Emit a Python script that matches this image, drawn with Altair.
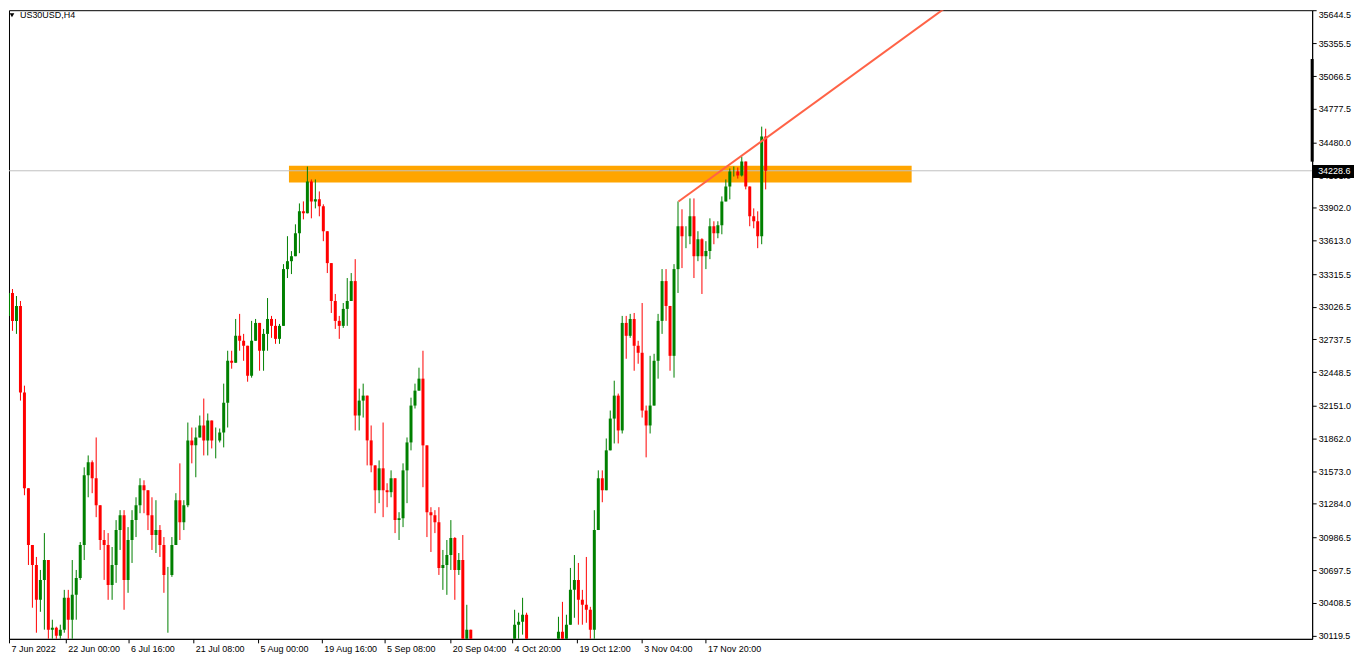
import json
import altair as alt
import pandas as pd

# ---- candle data (aggregated H4 bars) ----
open_first = 32725
high = [
    33007, 33200, 33183, 33121, 33077, 32328, 31315, 30901, 30813, 30698,
    31024, 30742, 30258, 30196, 30214, 30522, 30522, 30786, 30698, 30945,
    31606, 31711, 31667, 31870, 31165, 31051, 31024, 30901, 31139, 31227,
    31227, 31077, 31227, 31341, 31509, 31491, 31403, 31341, 31315, 31095,
    30989, 30725, 30989, 31377, 31641, 31315, 32002, 31958, 31958, 32064,
    32214, 32082, 32020, 31958, 31949, 32346, 32637, 32637, 32918, 32963,
    32786, 32548, 32901, 32918, 32883, 32830, 33103, 32945, 32918, 32874,
    33403, 33650, 33518, 33755, 33940, 33958, 34266, 34152, 34152, 34046,
    33932, 33650, 33412, 33139, 32945, 33059, 33280, 33324, 33447, 32302,
    32346, 32196, 31976, 31579, 31667, 32002, 31465, 31579, 31509, 31209,
    31641, 31870, 32222, 32346, 32487, 32637, 31800, 31253, 31227, 31253,
    30875, 30963, 31139, 30989, 30848, 31007, 30390, 30143, 29994, 29729,
    29641, 29465, 29641, 29553, 29201, 29289, 29641, 29994, 30346, 30320,
    30452, 30320, 30082, 29905, 29641, 29421, 29377, 29333, 29905, 30284,
    30416, 30302, 30716, 30830, 30760, 30522, 30813, 30372, 31227, 31579,
    31579, 31861, 32108, 32372, 32258, 32945, 32945, 32963, 32971, 32725,
    33059, 32152, 32592, 32610, 32963, 33359, 33359, 33033, 33403, 33958,
    33888, 33738, 33984, 33984, 33694, 33632, 33606, 33808, 33782, 33782,
    34002, 34152, 34249, 34266, 34258, 34354, 34310, 34002, 33896, 33870,
    34619, 34601,
]
low = [
    32610, 32971, 32813, 32786, 32196, 31359, 30742, 30364, 30143, 30328,
    30170, 30038, 29994, 29949, 29949, 30143, 30082, 30082, 30258, 30610,
    30786, 31341, 31377, 31165, 30875, 30610, 30434, 30434, 30584, 30875,
    30346, 30496, 30760, 30989, 31200, 31200, 31051, 30875, 30848, 30813,
    30496, 30143, 30637, 30936, 30963, 31051, 31253, 31641, 31518, 31914,
    31711, 31711, 31773, 31685, 31826, 31782, 31958, 32478, 32637, 32637,
    32548, 32363, 32399, 32751, 32460, 32460, 32637, 32751, 32698, 32698,
    32874, 33280, 33315, 33491, 33500, 33799, 33932, 33808, 33896, 33826,
    33606, 33324, 32971, 32830, 32742, 32839, 32857, 33139, 31932, 31932,
    32046, 31623, 31562, 31200, 31289, 31165, 31253, 31341, 31024, 30963,
    31077, 31289, 31756, 32126, 32284, 31430, 30989, 30857, 31024, 30654,
    30522, 30478, 30698, 30434, 30654, 29905, 29817, 29729, 29553, 29377,
    29245, 29113, 29157, 29024, 28672, 28716, 29157, 29509, 29905, 29994,
    30126, 29905, 29729, 29553, 29245, 29113, 29068, 29024, 28628, 29905,
    29861, 29817, 30284, 30275, 30214, 30214, 30231, 30082, 30082, 31200,
    31297, 31667, 31782, 31817, 31817, 31905, 32566, 32751, 32460, 32522,
    32046, 31694, 31905, 32258, 32390, 32786, 32901, 32460, 32399, 33148,
    33368, 33544, 33579, 33280, 33429, 33139, 33359, 33447, 33579, 33632,
    33667, 33984, 33976, 34178, 34160, 34178, 34064, 33738, 33720, 33544,
    33579, 34064,
]
close = [
    32945, 33148, 32901, 33033, 32267, 31421, 30919, 30742, 30434, 30610,
    30786, 30170, 30187, 30117, 30170, 30452, 30258, 30478, 30628, 30919,
    31535, 31650, 31509, 31271, 30963, 30919, 30566, 30742, 31051, 31183,
    30610, 30963, 31139, 31271, 31447, 31403, 31183, 31007, 31051, 30919,
    30654, 30654, 30919, 31315, 31121, 31271, 31844, 31800, 31870, 31976,
    31844, 32020, 31844, 31844, 31914, 32178, 32548, 32531, 32769, 32725,
    32681, 32416, 32725, 32883, 32637, 32786, 32918, 32857, 32742, 32857,
    33359, 33429, 33473, 33676, 33870, 33852, 34134, 33958, 33976, 33914,
    33694, 33412, 33077, 32901, 32857, 33007, 33077, 33253, 32064, 32196,
    32240, 31844, 31623, 31403, 31597, 31403, 31386, 31509, 31139, 31156,
    31579, 31826, 32152, 32284, 32390, 31800, 31209, 31183, 31121, 30716,
    30742, 30830, 30980, 30698, 30786, 29994, 30170, 29905, 29641, 29553,
    29377, 29245, 29553, 29157, 28760, 29201, 29553, 29905, 30214, 30240,
    30302, 29994, 29861, 29641, 29306, 29218, 29245, 29183, 29861, 30152,
    29994, 30214, 30522, 30610, 30434, 30390, 30346, 30170, 31051, 31509,
    31403, 31756, 32037, 32240, 31932, 32883, 32769, 32918, 32681, 32619,
    32108, 31976, 32152, 32548, 32901, 33253, 33033, 32592, 33359, 33738,
    33650, 33650, 33826, 33473, 33623, 33473, 33518, 33738, 33676, 33747,
    33958, 34090, 34222, 34222, 34187, 34310, 34090, 33826, 33782, 33650,
    34531, 34228.6,
]

# ---- axis labels ----
price_ticks = [35644.5, 35355.5, 35066.5, 34777.5, 34480.0, 34191.0, 33902.0,
               33613.0, 33315.5, 33026.5, 32737.5, 32448.5, 32151.0, 31862.0,
               31573.0, 31284.0, 30986.5, 30697.5, 30408.5, 30119.5]
date_tick_pos = [1.125, 15.375, 31.125, 47.375, 63.625, 79.625, 95.375,
                 111.875, 127.375, 143.625, 159.875, 175.875]
date_tick_labels = ["7 Jun 2022", "22 Jun 00:00", "6 Jul 16:00", "21 Jul 08:00",
                    "5 Aug 00:00", "19 Aug 16:00", "5 Sep 08:00", "20 Sep 04:00",
                    "4 Oct 20:00", "19 Oct 12:00", "3 Nov 04:00", "17 Nov 20:00"]

# ---- annotations ----
current_price = 34228.6
zone_idx = [71.375, 227.625]
zone_price = [34124.5, 34274.0]
trend_idx = [169.125, 236.875]
trend_price = [33957.0, 35690.0]
scroll_price = [35217.0, 34309.5]
price_box = [34165.0, 34280.0]
symbol_label = "US30USD,H4"

# ---- build tables ----
opens = [open_first] + close[:-1]
rows = []
for i, (o, h, l, c) in enumerate(zip(opens, high, low, close)):
    rows.append({
        "idx": i,
        "open": o, "close": c,
        "high": max(h, o, c), "low": min(l, o, c),
        "btop": max(o, c), "bbot": min(o, c),
        "col": "#008000" if c >= o else "#FF0000",
    })
candles = pd.DataFrame(rows)

W, H = 1308, 631
FONT = "Liberation Sans"

xs = alt.Scale(domain=[1.125, 1.125 + W / 4], nice=False, zero=False, padding=0)
ys = alt.Scale(domain=[30088.7, 35648.9], nice=False, zero=False, padding=0)

label_expr = "{}[indexof({}, datum.value)]".format(
    json.dumps(date_tick_labels), json.dumps(date_tick_pos))

x_axis = alt.Axis(values=date_tick_pos, labelExpr=label_expr, labelAlign="left",
                  labelFlush=False, labelOverlap=False, labelFont=FONT,
                  labelFontSize=9, labelColor="black", tickColor="black",
                  tickSize=4, domainColor="black", grid=False, title=None,
                  labelPadding=2, labelOffset=2)
y_axis = alt.Axis(orient="right", values=price_ticks, format=".1f",
                  labelFont=FONT, labelFontSize=9, labelColor="black",
                  tickColor="black", tickSize=4, domainColor="black",
                  grid=False, title=None, labelPadding=2, labelOverlap=False,
                  labelFlush=True)


def X(field):
    return alt.X(field, type="quantitative", scale=xs, axis=x_axis)


def Y(field):
    return alt.Y(field, type="quantitative", scale=ys, axis=y_axis)


zone_df = pd.DataFrame({"x0": [zone_idx[0]], "x1": [zone_idx[1]],
                        "p0": [zone_price[0]], "p1": [zone_price[1]]})
zone = alt.Chart(zone_df).mark_rect(color="#FFA500", clip=True).encode(
    x=X("x0"), x2="x1", y=Y("p0"), y2="p1")

cur_df = pd.DataFrame({"price": [current_price], "label": ["%.1f" % current_price],
                       "b0": [price_box[0]], "b1": [price_box[1]]})
gray = alt.Chart(cur_df).mark_rule(color="#C0C0C0", strokeWidth=1).encode(y=Y("price"))

wicks = alt.Chart(candles).mark_rule(strokeWidth=1, clip=True).encode(
    x=X("idx"), y=Y("low"), y2="high", color=alt.Color("col:N", scale=None))
bodies = alt.Chart(candles).mark_bar(width=3, clip=True).encode(
    x=X("idx"), y=Y("bbot"), y2="btop", color=alt.Color("col:N", scale=None))

trend_df = pd.DataFrame({"i": trend_idx, "p": trend_price})
trend = alt.Chart(trend_df).mark_line(color="#FF6347", strokeWidth=2, clip=True).encode(
    x=X("i"), y=Y("p"))

scroll_df = pd.DataFrame({"a": [scroll_price[0]], "b": [scroll_price[1]]})
scroll = alt.Chart(scroll_df).mark_rule(color="black", strokeWidth=3).encode(
    x=alt.value(W), y=Y("a"), y2="b")

box = alt.Chart(cur_df).mark_rect(color="black").encode(
    x=alt.value(W), x2=alt.value(W + 42), y=Y("b0"), y2="b1")
box_text = alt.Chart(cur_df).mark_text(color="white", align="left", baseline="middle",
                                       font=FONT, fontSize=9).encode(
    x=alt.value(W + 6), y=Y("price"), text="label:N")

title_df = pd.DataFrame({"t": [symbol_label]})
tri = alt.Chart(title_df).mark_point(shape="triangle-down", filled=True, size=22,
                                     color="black", opacity=1).encode(
    x=alt.value(3), y=alt.value(5))
title = alt.Chart(title_df).mark_text(align="left", baseline="middle", font=FONT,
                                      fontSize=9, color="black").encode(
    x=alt.value(11), y=alt.value(5), text="t:N")

chart = alt.layer(zone, gray, wicks, bodies, trend, scroll, box, box_text, tri, title).properties(
    width=W, height=H, padding=0, background="white"
).configure_view(stroke="black", strokeWidth=1)

chart.save("out.html", embed_options={"renderer": "svg", "actions": False})
